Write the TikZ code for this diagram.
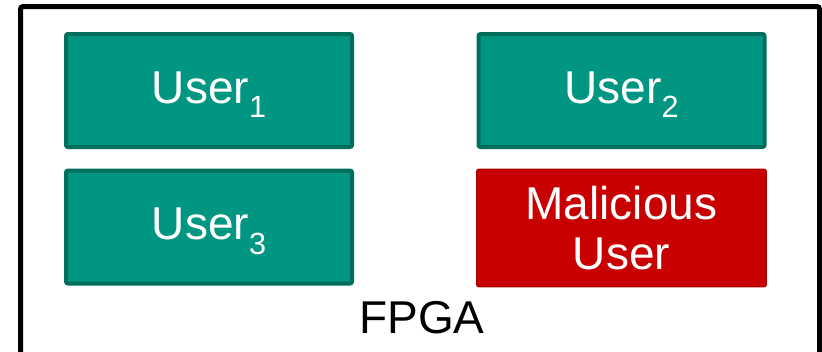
\documentclass[tikz,border=0pt]{standalone}
\usepackage{fontspec}
\setmainfont{Liberation Sans}
\definecolor{userfill}{RGB}{0,150,130}
\definecolor{userline}{RGB}{0,110,90}
\definecolor{evilfill}{RGB}{200,0,0}
\definecolor{evilline}{RGB}{175,0,0}
\newcommand\usersub[1]{\raisebox{-11pt}[0pt][4.5pt]{\fontsize{23}{23}\selectfont #1}}
\tikzset{
	userbox/.style={draw=userline, fill=userfill, line width=3pt, rounded corners=1.5pt,
		inner sep=0pt, minimum width=214.5pt, minimum height=84.75pt, text=white,
		font=\fontsize{34.5}{37.5}\selectfont},
	evilbox/.style={userbox, draw=evilline, fill=evilfill, line width=1.1pt,
		minimum width=217pt, minimum height=88pt, align=center}
}

\begin{document}
\begin{tikzpicture}[x=0.75pt, y=-0.75pt]
			%%%%% START %%%%%
			
			\useasboundingbox (0, 0) rectangle (822, 351);
			\draw[line width=3.75pt, rounded corners=2pt] (20.5, 6.5) rectangle (819.5, 380);
			
			\node[userbox] (user1) at (209, 90.5) {User\usersub{1}};
			\node[userbox] (user2) at (621.5, 90.5) {User\usersub{2}};
			\node[userbox] (user3) at (209, 227) {User\usersub{3}};
			\node[evilbox] (malicious) at (621.5, 228) {Malicious\\User};
			
			\node[anchor=base, inner sep=0pt, font=\fontsize{34.5}{37}\selectfont] (fpga) at (422, 333) {FPGA};
			
			%%%%% END %%%%%
		\end{tikzpicture}
\end{document}
